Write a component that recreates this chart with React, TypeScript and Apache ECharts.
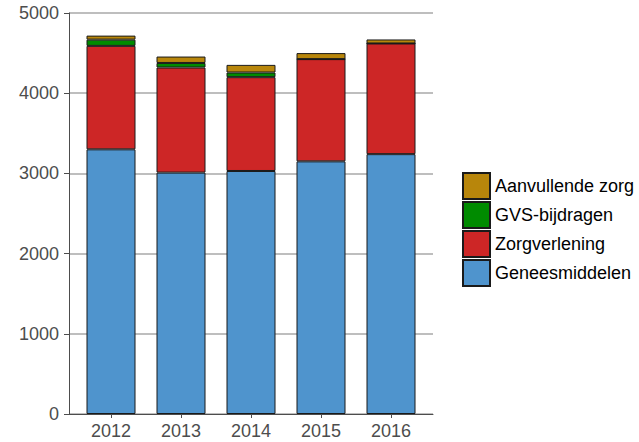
import React, { useEffect, useRef } from "react";
import * as echarts from "echarts";

const years = ["2012", "2013", "2014", "2015", "2016"];
const geneesmiddelen = [3300, 3010, 3030, 3150, 3240];
const zorgverlening = [1290, 1310, 1170, 1275, 1380];
const gvsBijdragen = [78, 57, 58, 0, 0];
const aanvullendeZorg = [50, 80, 95, 75, 50];
const yMax = 5000;
const yStep = 1000;

const FONT = "'Liberation Sans', Arial, sans-serif";
const AXIS = "#4d4d4d";

export default function App() {
  const ref = useRef<HTMLDivElement>(null);
  useEffect(() => {
    if (!ref.current) return;
    const chart = echarts.init(ref.current, undefined, { renderer: "svg" });
    const mk = (name: string, vals: number[], color: string) => ({
      name,
      type: "bar",
      stack: "total",
      barWidth: 49,
      xAxisIndex: 1,
      yAxisIndex: 1,
      data: vals,
      itemStyle: { color, borderColor: "#1a1a1a", borderWidth: 1 },
      emphasis: { disabled: true },
    });
    chart.setOption({
      animation: false,
      textStyle: { fontFamily: FONT },
      grid: [
        { left: 69, right: 206, top: 13, bottom: 28 },
        { left: 76, right: 213, top: 13, bottom: 28 },
      ],
      xAxis: [
        {
          gridIndex: 0,
          type: "value",
          min: 0,
          max: 1,
          splitLine: { show: false },
          axisLine: { show: true, lineStyle: { color: AXIS, width: 1 } },
          axisTick: { show: false },
          axisLabel: { show: false },
        },
        {
          gridIndex: 1,
          type: "category",
          data: years,
          axisLine: { show: false },
          axisTick: { show: true, length: 4, alignWithLabel: true, lineStyle: { color: AXIS } },
          axisLabel: { fontSize: 18, color: AXIS, margin: 8, fontFamily: FONT },
          splitLine: { show: false },
        },
      ],
      yAxis: [
        {
          gridIndex: 0,
          type: "value",
          min: 0,
          max: yMax,
          interval: yStep,
          axisLine: { show: true, lineStyle: { color: AXIS, width: 1 } },
          axisTick: { show: true, length: 5, lineStyle: { color: AXIS } },
          axisLabel: {
            fontSize: 18,
            color: AXIS,
            margin: 10,
            fontFamily: FONT,
            formatter: (v: number) => String(v),
          },
          splitLine: { show: true, lineStyle: { color: "#bebebe", width: 2 } },
        },
        {
          gridIndex: 1,
          type: "value",
          min: 0,
          max: yMax,
          interval: yStep,
          show: false,
          splitLine: { show: false },
        },
      ],
      legend: {
        orient: "vertical",
        left: 462,
        top: 172,
        padding: 0,
        itemWidth: 27,
        itemHeight: 26,
        itemGap: 1,
        icon: "rect",
        data: ["Aanvullende zorg", "GVS-bijdragen", "Zorgverlening", "Geneesmiddelen"],
        textStyle: { fontSize: 18, color: "#000", fontFamily: FONT },
      },
      series: [
        mk("Geneesmiddelen", geneesmiddelen, "#4F94CD"),
        mk("Zorgverlening", zorgverlening, "#CD2626"),
        mk("GVS-bijdragen", gvsBijdragen, "#008B00"),
        mk("Aanvullende zorg", aanvullendeZorg, "#B8860B"),
      ],
    });
    return () => chart.dispose();
  }, []);
  return (
    <div
      ref={ref}
      style={{ position: "fixed", left: 0, top: 0, width: 639, height: 442, background: "#fff" }}
    />
  );
}
